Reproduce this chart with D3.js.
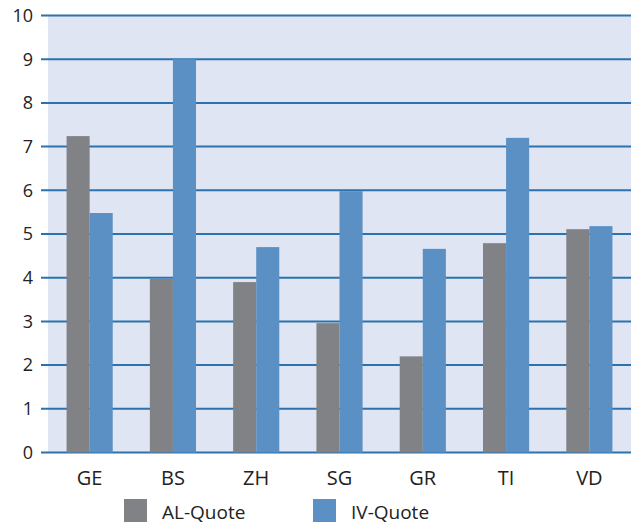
<!DOCTYPE html>
<html>
<head>
<meta charset="utf-8">
<script src="https://cdn.jsdelivr.net/npm/d3@7"></script>
<style>
  body { margin: 0; background: #fff; }
  text { font-family: 'Open Sans', sans-serif; fill: #222; }
</style>
</head>
<body>
<div id="chart"></div>
<script>
var cantons = ['GE', 'BS', 'ZH', 'SG', 'GR', 'TI', 'VD']
var alQuote = [7.24, 3.97, 3.9, 2.96, 2.2, 4.79, 5.11]
var ivQuote = [5.48, 9.0, 4.7, 5.98, 4.66, 7.2, 5.18]
var seriesNames = ['AL-Quote', 'IV-Quote']
var yTicks = [0, 1, 2, 3, 4, 5, 6, 7, 8, 9, 10]

var colors = ['#818286', '#5a90c3']

var svg = d3.select('#chart')
  .append('svg')
  .attr('width', 633)
  .attr('height', 529)

var x = d3.scaleBand()
  .domain(cantons)
  .range([48, 631])
  .paddingInner(0.446)
  .paddingOuter(0.223)

var x1 = d3.scaleBand()
  .domain(seriesNames)
  .range([0, x.bandwidth()])

var y = d3.scaleLinear()
  .domain([0, 10])
  .range([452.5, 15.5])

// background
svg.append('rect')
  .attr('x', 48)
  .attr('y', y(10))
  .attr('width', 631 - 48)
  .attr('height', y(0) - y(10))
  .attr('fill', '#dfe5f2')

// grid lines
svg.selectAll('.grid')
  .data(yTicks)
  .enter()
  .append('line')
  .attr('x1', 41)
  .attr('x2', 631)
  .attr('y1', function (d) { return y(d) })
  .attr('y2', function (d) { return y(d) })
  .attr('stroke', '#2b72ae')
  .attr('stroke-width', 2)

svg.selectAll('.ylab')
  .data(yTicks)
  .enter()
  .append('text')
  .attr('x', 33)
  .attr('y', function (d) { return y(d) })
  .attr('dy', '0.35em')
  .attr('text-anchor', 'end')
  .style('font-size', '18px')
  .text(function (d) { return d })

var groups = svg.selectAll('.group')
  .data(cantons)
  .enter()
  .append('g')
  .attr('transform', function (d) { return 'translate(' + x(d) + ',0)' })

groups.selectAll('rect')
  .data(function (d, i) { return [alQuote[i], ivQuote[i]] })
  .enter()
  .append('rect')
  .attr('x', function (d, j) { return x1(seriesNames[j]) })
  .attr('width', x1.bandwidth())
  .attr('y', function (d) { return y(d) })
  .attr('height', function (d) { return y(0) - y(d) })
  .attr('fill', function (d, j) { return colors[j] })

svg.selectAll('.xlab')
  .data(cantons)
  .enter()
  .append('text')
  .attr('x', function (d) { return x(d) + x.bandwidth() / 2 })
  .attr('y', 485)
  .attr('text-anchor', 'middle')
  .style('font-size', '20px')
  .text(function (d) { return d })

// legend
var legendX = [124, 313]
var legend = svg.selectAll('.legend')
  .data(seriesNames)
  .enter()
  .append('g')
  .attr('transform', function (d, i) { return 'translate(' + legendX[i] + ',499)' })

legend.append('rect')
  .attr('width', 23)
  .attr('height', 23)
  .attr('fill', function (d, i) { return colors[i] })

legend.append('text')
  .attr('x', 38)
  .attr('y', 20)
  .style('font-size', '19px')
  .text(function (d) { return d })
</script>
</body>
</html>
